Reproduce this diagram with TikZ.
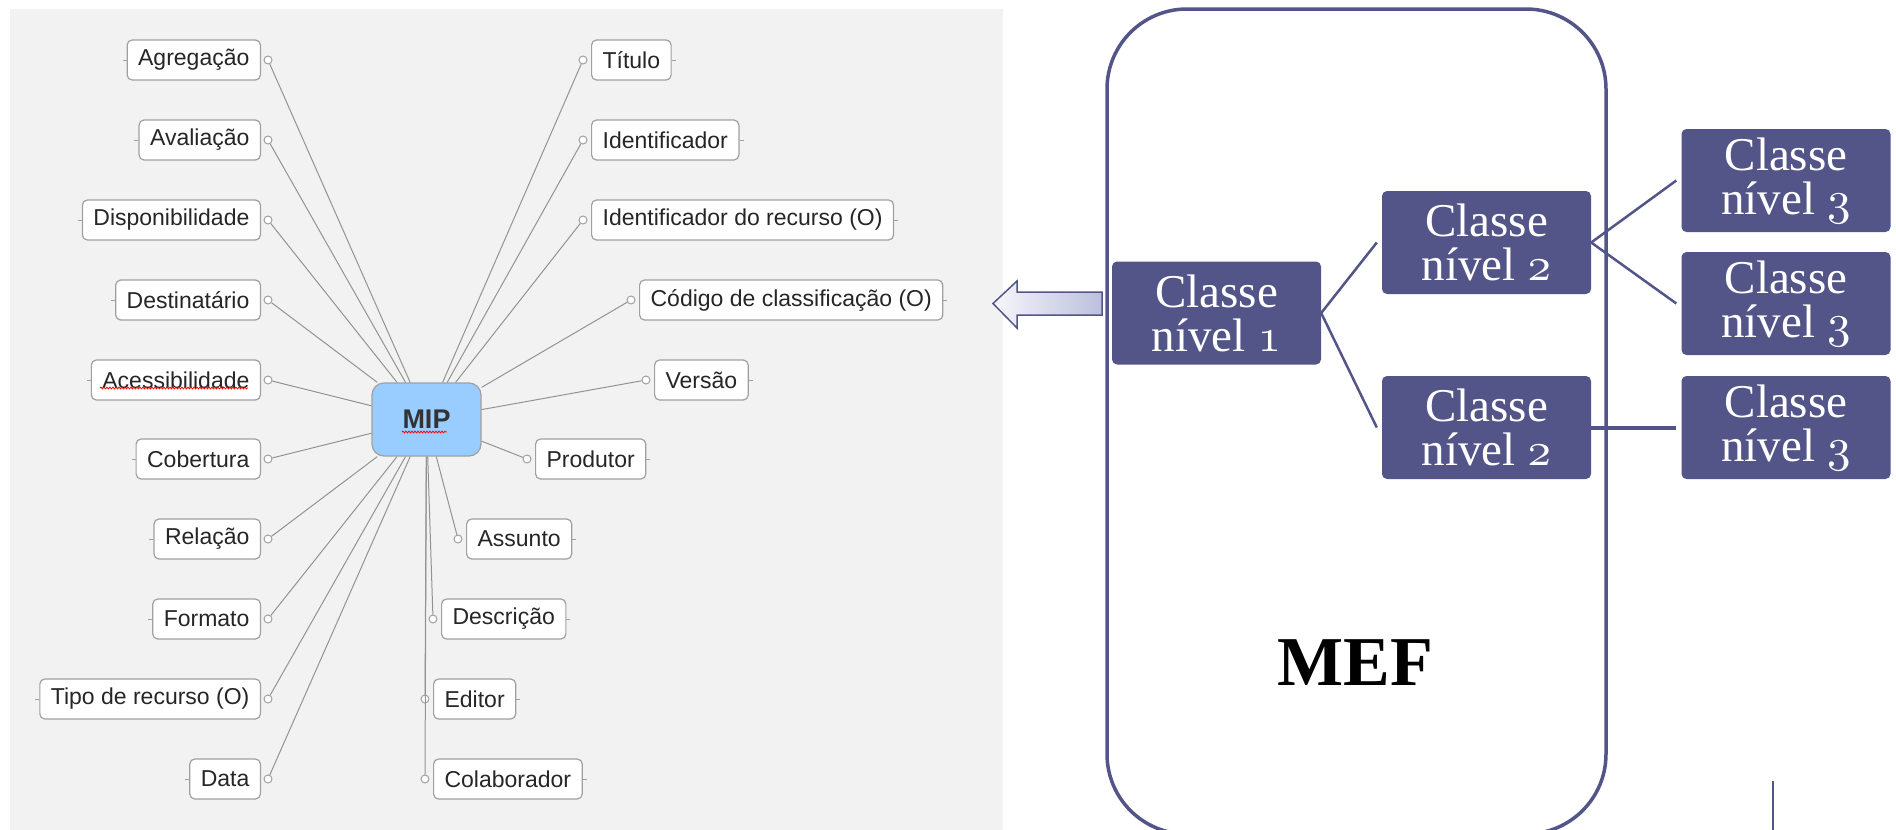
\documentclass[tikz,border=0pt]{standalone}
\usepackage{fontspec}
\usepackage{tikz}
\usetikzlibrary{decorations.pathmorphing}
\newfontfamily\fonteMapa{Liberation Sans}
\newfontfamily\fonteTimes{Liberation Serif}
\DeclareFontFamily{OML}{algarismo}{}
\DeclareFontShape{OML}{algarismo}{m}{it}{<-> cmmi10}{}
\newcommand{\digito}[1]{{\usefont{OML}{algarismo}{m}{it}#1}}
\definecolor{escuro}{RGB}{83, 85, 137}
\definecolor{painel}{RGB}{242, 242, 242}
\definecolor{azulmip}{RGB}{153, 204, 255}
\definecolor{borda}{RGB}{160, 160, 160}
\definecolor{setaclara}{RGB}{246, 246, 251}
\definecolor{setaescura}{RGB}{188, 191, 220}

\begin{document}
\begin{tikzpicture}[x=1pt, y=-1pt,
  folha/.style={draw=borda, fill=white, rounded corners=5pt, line width=1.2pt,
    minimum height=40pt, inner xsep=11pt, inner ysep=0pt, text=black!85,
    font=\fonteMapa\fontsize{23}{26}\selectfont},
  bolinha/.style={circle, draw=borda, fill=white, line width=1pt, inner sep=0pt, minimum size=8pt},
  raio/.style={draw=gray!85, line width=1pt},
  nivel/.style={fill=escuro, rounded corners=5pt, text=white, align=center,
    minimum width=209pt, minimum height=103pt, inner sep=0pt,
    font=\fonteTimes\fontsize{47}{44}\selectfont},
  elo/.style={draw=escuro, line width=2.5pt}]

  \useasboundingbox (0,0) rectangle (1896,830);
  \fill[white] (0,0) rectangle (1896,830);

  \fill[painel] (10,9) rectangle (1003,830);

  \node[draw=borda, fill=azulmip, rounded corners=12pt, line width=1.2pt,
    minimum width=109pt, minimum height=73pt, text=black!80,
    font=\fonteMapa\bfseries\fontsize{27}{30}\selectfont] (mip) at (426.5,419.5) {MIP};

  \foreach \txt/\y [count=\i] in {Agregação/60, Avaliação/140, Disponibilidade/220,
      Destinatário/300, Acessibilidade/380, Cobertura/459, Relação/539,
      Formato/619, Tipo de recurso (O)/699, Data/779} {
    \node[folha, anchor=east] (esq\i) at (261,\y) {\txt};
    \node[bolinha] (bE\i) at (268,\y) {};
    \draw[raio] (mip) -- (bE\i);
    \draw[borda, line width=1pt] (esq\i.west) -- ++(-4,0);
  }

  \foreach \txt/\x/\y [count=\i] in {Título/591/60, Identificador/591/140,
      Identificador do recurso (O)/591/220, Código de classificação (O)/639/300,
      Versão/654/380, Produtor/535/459, Assunto/466/539, Descrição/441/619,
      Editor/433/699, Colaborador/433/779} {
    \node[folha, anchor=west] (dir\i) at (\x,\y) {\txt};
    \node[bolinha] (bD\i) at (\x-8,\y) {};
    \draw[raio] (mip) -- (bD\i);
    \draw[borda, line width=1pt] (dir\i.east) -- ++(4,0);
  }

  \draw[red, line width=0.8pt, decorate, decoration={snake, amplitude=0.9pt, segment length=3pt}]
    (402,432) -- (447,432);
  \draw[red, line width=0.8pt, decorate, decoration={snake, amplitude=0.9pt, segment length=3pt}]
    (100,388) -- (248,388);

  \draw[escuro, line width=1.5pt, left color=setaclara, right color=setaescura]
    (993,303.5) -- (1017,281) -- (1017,292) -- (1102,292) -- (1102,315)
    -- (1017,315) -- (1017,328) -- cycle;

  \draw[escuro, line width=3.5pt, rounded corners=80pt] (1107,9) rectangle (1606,834);
  \node[font=\fonteTimes\bfseries\fontsize{70}{70}\selectfont] (mef) at (1355,663) {MEF};

  \node[nivel] (n1) at (1216.5,313) {Classe\\nível \digito{1}};
  \node[nivel] (n2a) at (1486.5,242.5) {Classe\\nível \digito{2}};
  \node[nivel] (n2b) at (1486.5,427.5) {Classe\\nível \digito{2}};
  \node[nivel] (n3a) at (1786,180.5) {Classe\\nível \digito{3}};
  \node[nivel] (n3b) at (1786,303.5) {Classe\\nível \digito{3}};
  \node[nivel] (n3c) at (1786,427.5) {Classe\\nível \digito{3}};

  \draw[elo] (n1.east) -- ([xshift=-5pt]n2a.west);
  \draw[elo] (n1.east) -- ([xshift=-5pt]n2b.west);
  \draw[elo] (n2a.east) -- ([xshift=-5pt]n3a.west);
  \draw[elo] (n2a.east) -- ([xshift=-5pt]n3b.west);
  \draw[elo, line width=4pt] (n2b.east) -- ([xshift=-5pt]n3c.west);

  \draw[escuro, line width=1.5pt] (1773,781) -- (1773,830);

\end{tikzpicture}
\end{document}
